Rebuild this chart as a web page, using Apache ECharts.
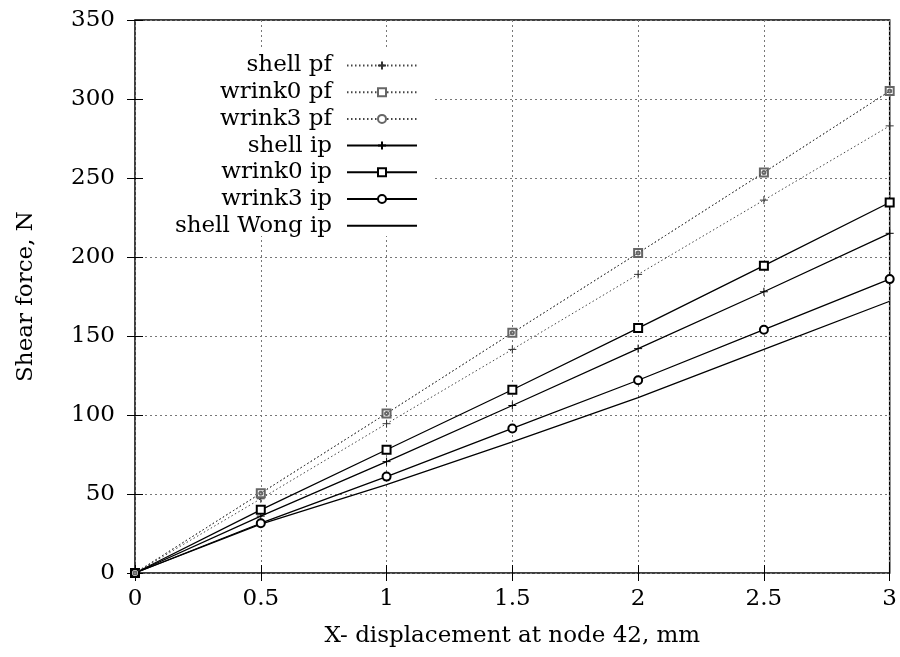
<!DOCTYPE html>
<html>
<head>
<meta charset="utf-8">
<script src="https://cdn.jsdelivr.net/npm/echarts@6/dist/echarts.min.js"></script>
</head>
<body style="margin:0;background:#fff">
<div id="main" style="width:900px;height:657px"></div>
<script>
// 数据
const xDisp = [0, 0.5, 1, 1.5, 2, 2.5, 3];
const shellPf = [0, 47, 94.5, 141.5, 189, 236, 283];
const wrink0Pf = [0, 50.5, 101, 152, 202.5, 253.5, 305];
const wrink3Pf = [0, 50.5, 101, 152, 202.5, 253.5, 305];
const shellIp = [0, 36, 70.5, 106, 142, 178, 215];
const wrink0Ip = [0, 40, 78, 116, 155, 194.5, 234.5];
const wrink3Ip = [0, 31.5, 61, 91.5, 122, 154, 186];
const shellWongIp = [0, 31, 56, 83, 111, 141.5, 172];
const seriesNames = ["shell pf", "wrink0 pf", "wrink3 pf", "shell ip", "wrink0 ip", "wrink3 ip", "shell Wong ip"];

const FONT = "DejaVu Serif";
const FS = 23;
const plus = "path://M0,4L8,4M4,0L4,8";

function pts(ys) {
  return xDisp.map((x, i) => [x, ys[i]]);
}

function mkLine(name, ys, opt) {
  return {
    name: name,
    type: "line",
    data: pts(ys),
    symbol: opt.symbol || "circle",
    symbolSize: opt.size || 0,
    showSymbol: !!opt.symbol,
    z: opt.z || 2,
    lineStyle: { color: opt.color, width: opt.width, type: opt.dash },
    itemStyle: { color: opt.mcolor, borderColor: opt.mcolor, borderWidth: 1 },
    emphasis: { disabled: true },
    animation: false,
  };
}

const chart = echarts.init(document.getElementById("main"));
chart.setOption({
  backgroundColor: "#fff",
  animation: false,
  grid: { left: 135, right: 10, top: 20, bottom: 84, show: true, borderColor: "#000", borderWidth: 1.5 },
  legend: {
    data: seriesNames,
    orient: "vertical",
    align: "right",
    right: 482,
    top: 54,
    padding: 0,
    itemGap: 3.7,
    itemWidth: 70,
    itemHeight: 10,
    textStyle: { fontFamily: FONT, fontSize: FS, color: "#000", lineHeight: 23, padding: [0, 10, 0, 0] },
    z: 5,
  },
  graphic: [
    { type: "rect", shape: { x: 143, y: 50, width: 292, height: 186 }, style: { fill: "#fff" }, z: 1 },
  ],
  xAxis: [
    {
      type: "value", min: 0, max: 3, interval: 0.5,
      name: "X- displacement at node 42, mm", nameLocation: "middle", nameGap: 52,
      nameTextStyle: { fontFamily: FONT, fontSize: FS, color: "#000" },
      axisLine: { show: false },
      axisTick: { inside: true, length: 8, lineStyle: { color: "#000" } },
      axisLabel: { fontFamily: FONT, fontSize: FS, color: "#000", margin: 15 },
      splitLine: { show: true, lineStyle: { color: "#777", type: [2, 3], width: 1 } },
    },
    {
      type: "value", min: 0, max: 3, interval: 0.5, position: "top",
      axisLine: { show: false },
      axisTick: { inside: true, length: 8, lineStyle: { color: "#000" } },
      axisLabel: { show: false }, splitLine: { show: false },
    },
  ],
  yAxis: [
    {
      type: "value", min: 0, max: 350, interval: 50,
      name: "Shear force, N", nameLocation: "middle", nameGap: 97, nameRotate: 90,
      nameTextStyle: { fontFamily: FONT, fontSize: FS, color: "#000" },
      axisLine: { show: false },
      axisTick: { inside: true, length: 8, lineStyle: { color: "#000" } },
      axisLabel: { fontFamily: FONT, fontSize: FS, color: "#000", margin: 20 },
      splitLine: { show: true, lineStyle: { color: "#777", type: [2, 3], width: 1 } },
    },
    {
      type: "value", min: 0, max: 350, interval: 50, position: "right",
      axisLine: { show: false },
      axisTick: { inside: true, length: 8, lineStyle: { color: "#000" } },
      axisLabel: { show: false }, splitLine: { show: false },
    },
  ],
  series: [
    mkLine("shell pf", shellPf, { symbol: plus, size: 8, color: "#444", mcolor: "#333", width: 1, dash: [1.5, 2.5] }),
    mkLine("wrink0 pf", wrink0Pf, { symbol: "emptyRect", size: 8, color: "#444", mcolor: "#666", width: 1, dash: [1.5, 2.5] }),
    mkLine("wrink3 pf", wrink3Pf, { symbol: "emptyCircle", size: 3, color: "#444", mcolor: "#666", width: 1, dash: [1.5, 2.5], z: 3 }),
    mkLine("shell ip", shellIp, { symbol: plus, size: 8, color: "#000", mcolor: "#000", width: 1.3, dash: "solid" }),
    mkLine("wrink0 ip", wrink0Ip, { symbol: "emptyRect", size: 8, color: "#000", mcolor: "#000", width: 1.3, dash: "solid" }),
    mkLine("wrink3 ip", wrink3Ip, { symbol: "emptyCircle", size: 8, color: "#000", mcolor: "#000", width: 1.3, dash: "solid" }),
    mkLine("shell Wong ip", shellWongIp, { color: "#000", mcolor: "transparent", width: 1.3, dash: "solid" }),
  ],
});
</script>
</body>
</html>
